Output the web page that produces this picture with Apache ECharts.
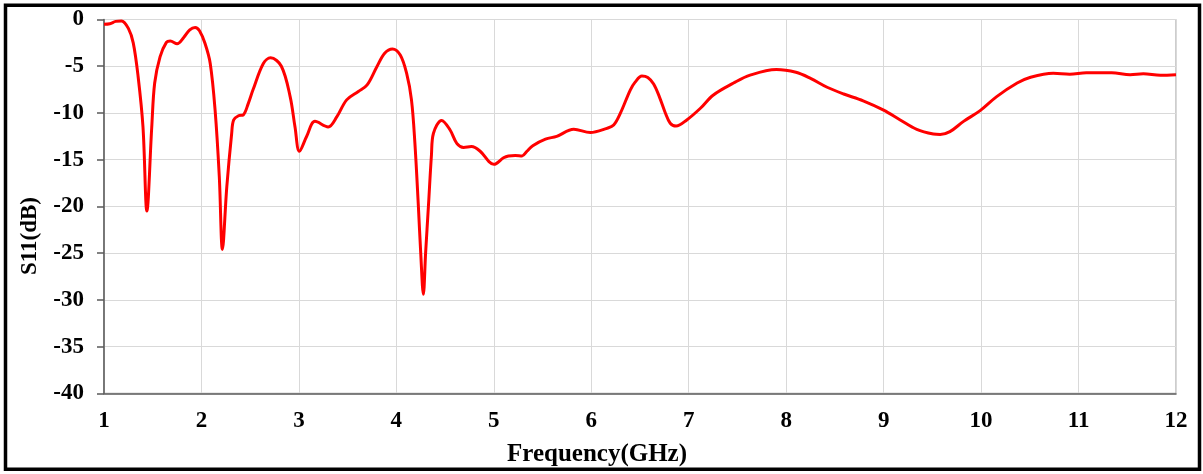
<!DOCTYPE html>
<html>
<head>
<meta charset="utf-8">
<script src="https://cdn.jsdelivr.net/npm/echarts@6/dist/echarts.min.js"></script>
<style>
html,body{margin:0;padding:0;background:#fff;}
#chart{width:1203px;height:474px;}
</style>
</head>
<body>
<div id="chart"></div>
<script>
// Frequency (GHz)
const freq = [1.00,1.06,1.12,1.18,1.25,1.30,1.35,1.40,1.44,1.49,1.52,1.575,1.64,1.68,1.75,1.82,1.88,1.935,1.98,2.036,2.09,2.14,2.183,2.215,2.26,2.31,2.33,2.38,2.43,2.48,2.53,2.635,2.71,2.82,2.91,2.96,3.005,3.08,3.165,3.30,3.39,3.49,3.61,3.70,3.80,3.88,3.96,4.04,4.105,4.155,4.19,4.225,4.25,4.277,4.30,4.33,4.36,4.38,4.465,4.55,4.62,4.69,4.77,4.86,4.95,5.00,5.10,5.15,5.22,5.29,5.34,5.40,5.53,5.645,5.82,5.99,6.16,6.23,6.30,6.40,6.45,6.52,6.58,6.64,6.70,6.76,6.81,6.87,6.98,7.12,7.25,7.46,7.63,7.90,8.10,8.25,8.42,8.59,8.79,9.00,9.17,9.34,9.51,9.58,9.68,9.82,9.99,10.16,10.37,10.50,10.74,10.91,11.08,11.34,11.53,11.665,11.84,12.00];
// S11 (dB)
const s11 = [-0.5,-0.45,-0.2,-0.15,-0.95,-2.5,-6.1,-11.5,-20.5,-11.5,-6.8,-4.0,-2.45,-2.3,-2.6,-1.9,-1.1,-0.85,-1.2,-2.55,-4.7,-9.7,-16.8,-24.6,-17.9,-12.2,-10.75,-10.3,-10.2,-9.0,-7.5,-4.7,-4.1,-5.0,-8.25,-11.5,-14.1,-12.5,-10.9,-11.5,-10.4,-8.6,-7.7,-7.0,-5.05,-3.6,-3.15,-3.8,-5.75,-8.6,-13.2,-19.8,-25.0,-29.4,-25.0,-19.8,-14.5,-12.2,-10.8,-11.8,-13.25,-13.7,-13.6,-14.1,-15.2,-15.5,-14.8,-14.6,-14.55,-14.6,-14.1,-13.5,-12.8,-12.5,-11.75,-12.1,-11.65,-11.3,-10.0,-7.55,-6.7,-6.05,-6.2,-6.9,-8.3,-10.0,-11.1,-11.4,-10.75,-9.5,-8.1,-6.8,-5.95,-5.35,-5.65,-6.3,-7.25,-7.97,-8.7,-9.7,-10.75,-11.75,-12.25,-12.3,-12.0,-10.9,-9.75,-8.25,-6.8,-6.2,-5.75,-5.85,-5.7,-5.7,-5.9,-5.8,-5.97,-5.9];
const xTitle = 'Frequency(GHz)';
const yTitle = 'S11(dB)';

const chart = echarts.init(document.getElementById('chart'), null, {renderer:'canvas'});
const font = "'Liberation Serif','Times New Roman',serif";
chart.setOption({
  animation:false,
  backgroundColor:'#fff',
  grid:{left:104,right:27,top:19.5,bottom:80.7,show:true,borderColor:'#9a9a9a',borderWidth:1},
  xAxis:{type:'value',min:1,max:12,interval:1,
    axisLine:{show:true,onZero:false,lineStyle:{color:'#595959',width:1.5}},
    axisTick:{show:false},
    splitLine:{show:true,lineStyle:{color:'#d9d9d9',width:1}},
    axisLabel:{margin:16,color:'#000',fontFamily:font,fontWeight:'bold',fontSize:23}
  },
  yAxis:{type:'value',min:-40,max:0,interval:5,
    axisLine:{show:true,onZero:false,lineStyle:{color:'#595959',width:1.5}},
    axisTick:{show:true,length:7,lineStyle:{color:'#595959',width:1.5}},
    splitLine:{show:true,lineStyle:{color:'#d9d9d9',width:1}},
    axisLabel:{margin:20,color:'#000',fontFamily:font,fontWeight:'bold',fontSize:23}
  },
  graphic:[
    {type:'rect',shape:{x:5.5,y:5.3,width:1194,height:464},style:{fill:'none',stroke:'#000',lineWidth:3.5},z:100},
    {type:'text',x:597,y:455,style:{text:xTitle,font:"bold 25px "+font,fill:'#000',align:'center',verticalAlign:'middle'}},
    {type:'text',x:30,y:236,rotation:Math.PI/2,style:{text:yTitle,font:"bold 23px "+font,fill:'#000',align:'center',verticalAlign:'middle'}}
  ],
  series:[{
    type:'line',
    data:freq.map((f,i)=>[f,s11[i]]),
    showSymbol:false,
    smooth:0.35,
    lineStyle:{color:'#ff0000',width:3},
    clip:true
  }]
});
</script>
</body>
</html>
